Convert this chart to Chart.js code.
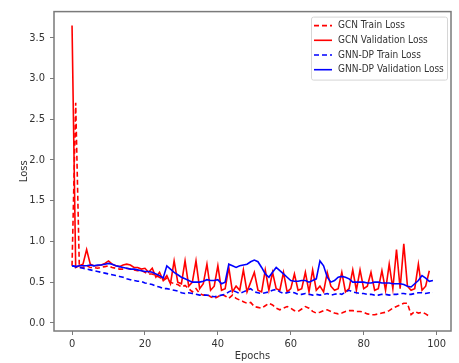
<!DOCTYPE html>
<html>
<head>
<meta charset="utf-8">
<script src="https://cdn.jsdelivr.net/npm/chart.js@4"></script>
<style>
  html, body { margin: 0; padding: 0; background: #fff; }
  #wrap { width: 459px; height: 363px; }
</style>
</head>
<body>
<div id="wrap"><canvas id="grafico" width="459" height="363"></canvas></div>
<script>
const FONTE = "'Liberation Sans Narrow', 'DejaVu Sans Condensed', sans-serif";

const epocas = Array.from({ length: 100 }, (_, i) => i);
const ticksX = [0, 20, 40, 60, 80, 100];
const ticksY = [0.0, 0.5, 1.0, 1.5, 2.0, 2.5, 3.0, 3.5];

const gcnTreino = [
  0.70, 2.70, 0.68, 0.68, 0.70, 0.68, 0.68, 0.67, 0.68, 0.69,
  0.70, 0.68, 0.67, 0.66, 0.66, 0.67, 0.66, 0.65, 0.64, 0.64,
  0.62, 0.60, 0.60, 0.58, 0.56, 0.52, 0.55, 0.50, 0.48, 0.47,
  0.44, 0.46, 0.42, 0.38, 0.42, 0.36, 0.34, 0.35, 0.32, 0.30,
  0.32, 0.35, 0.33, 0.30, 0.34, 0.30, 0.28, 0.26, 0.24, 0.25,
  0.20, 0.19, 0.18, 0.21, 0.24, 0.22, 0.18, 0.16, 0.18, 0.20,
  0.18, 0.15, 0.14, 0.17, 0.20, 0.18, 0.14, 0.12, 0.13, 0.15,
  0.16, 0.14, 0.12, 0.11, 0.12, 0.14, 0.15, 0.15, 0.14, 0.14,
  0.13, 0.11, 0.10, 0.10, 0.11, 0.12, 0.13, 0.15, 0.18, 0.20,
  0.22, 0.24, 0.24, 0.10, 0.14, 0.12, 0.13, 0.11, 0.08
];

const gcnValidacao = [
  3.65, 0.68, 0.70, 0.72, 0.90, 0.72, 0.70, 0.70, 0.71, 0.73,
  0.76, 0.72, 0.70, 0.69, 0.71, 0.72, 0.71, 0.68, 0.68, 0.66,
  0.67, 0.62, 0.67, 0.56, 0.62, 0.52, 0.58, 0.48, 0.76, 0.50,
  0.48, 0.76, 0.45, 0.50, 0.76, 0.42, 0.48, 0.72, 0.40, 0.45,
  0.70, 0.40, 0.42, 0.68, 0.38, 0.45, 0.40, 0.65, 0.38, 0.50,
  0.62, 0.40, 0.38, 0.65, 0.40, 0.62, 0.42, 0.40, 0.62, 0.38,
  0.42, 0.60, 0.40, 0.42, 0.62, 0.38, 0.65, 0.40, 0.45, 0.38,
  0.62, 0.45, 0.40, 0.42, 0.62, 0.38, 0.42, 0.65, 0.40, 0.65,
  0.42, 0.45, 0.62, 0.40, 0.42, 0.64, 0.40, 0.72, 0.42, 0.90,
  0.42, 0.97, 0.45, 0.40, 0.42, 0.72, 0.40, 0.45, 0.64
];

const gnnTreino = [
  0.70, 0.69, 0.68, 0.67, 0.66, 0.65, 0.64, 0.63, 0.62, 0.61,
  0.60, 0.59, 0.58, 0.57, 0.56, 0.54, 0.53, 0.52, 0.51, 0.51,
  0.49, 0.48, 0.47, 0.45, 0.44, 0.42, 0.42, 0.41, 0.40, 0.39,
  0.37, 0.36, 0.37, 0.36, 0.35, 0.34, 0.34, 0.34, 0.33, 0.32,
  0.33, 0.34, 0.35, 0.38, 0.40, 0.38, 0.36, 0.38, 0.40, 0.42,
  0.38, 0.37, 0.36, 0.37, 0.38, 0.40, 0.41, 0.38, 0.36, 0.37,
  0.38, 0.37, 0.35, 0.35, 0.36, 0.35, 0.34, 0.35, 0.34, 0.35,
  0.36, 0.34, 0.35, 0.36, 0.35, 0.38, 0.40, 0.38, 0.37, 0.36,
  0.36, 0.35, 0.35, 0.34, 0.34, 0.35, 0.35, 0.34, 0.35, 0.35,
  0.36, 0.36, 0.35, 0.35, 0.36, 0.37, 0.37, 0.36, 0.37, 0.37
];

const gnnValidacao = [
  0.70, 0.69, 0.70, 0.70, 0.70, 0.71, 0.70, 0.71, 0.71, 0.72,
  0.73, 0.72, 0.70, 0.69, 0.68, 0.67, 0.66, 0.66, 0.65, 0.64,
  0.63, 0.63, 0.62, 0.60, 0.58, 0.55, 0.70, 0.66, 0.62, 0.59,
  0.56, 0.54, 0.52, 0.50, 0.50, 0.50, 0.51, 0.53, 0.52, 0.52,
  0.53, 0.48, 0.50, 0.72, 0.70, 0.68, 0.70, 0.71, 0.72, 0.75,
  0.77, 0.75, 0.68, 0.60, 0.56, 0.62, 0.68, 0.64, 0.60, 0.56,
  0.52, 0.51, 0.51, 0.52, 0.52, 0.50, 0.52, 0.54, 0.76, 0.70,
  0.56, 0.50, 0.52, 0.56, 0.57, 0.56, 0.54, 0.50, 0.50, 0.50,
  0.50, 0.49, 0.49, 0.50, 0.50, 0.49, 0.49, 0.49, 0.48, 0.48,
  0.48, 0.47, 0.45, 0.44, 0.48, 0.52, 0.58, 0.55, 0.51, 0.52
];

function pontos(valores) {
  return valores.map((v, i) => ({ x: epocas[i], y: v }));
}

// Legenda no estilo matplotlib, dentro da área do gráfico (canto superior direito)
const legendaInterna = {
  id: "legendaInterna",
  afterDraw(chart) {
    const ctx = chart.ctx;
    const area = chart.chartArea;
    const itens = chart.data.datasets;
    const x0 = area.right - 140, y0 = area.top + 5, w = 136, h = 63;
    ctx.save();
    ctx.fillStyle = "rgba(255,255,255,0.8)";
    ctx.strokeStyle = "#d6d6d6";
    ctx.lineWidth = 1;
    ctx.beginPath();
    ctx.roundRect(x0 + 0.5, y0 + 0.5, w, h, 2);
    ctx.fill();
    ctx.stroke();
    ctx.font = "10px " + FONTE;
    ctx.textBaseline = "middle";
    itens.forEach((ds, i) => {
      const y = y0 + 9 + i * 14.7;
      ctx.strokeStyle = ds.borderColor;
      ctx.lineWidth = 1.6;
      ctx.setLineDash(ds.borderDash || []);
      ctx.beginPath();
      ctx.moveTo(x0 + 3, y);
      ctx.lineTo(x0 + 21, y);
      ctx.stroke();
      ctx.setLineDash([]);
      ctx.fillStyle = "#333";
      ctx.fillText(ds.label, x0 + 27, y);
    });
    ctx.restore();
  }
};

// Moldura cinza em volta do gráfico
const moldura = {
  id: "moldura",
  afterDatasetsDraw(chart) {
    const { ctx, chartArea: a } = chart;
    ctx.save();
    ctx.strokeStyle = "#7a7a7a";
    ctx.lineWidth = 1.5;
    ctx.strokeRect(a.left, a.top, a.right - a.left, a.bottom - a.top);
    ctx.restore();
  }
};

new Chart(document.getElementById("grafico"), {
  type: "line",
  data: {
    datasets: [
      { label: "GCN Train Loss", data: pontos(gcnTreino), borderColor: "#ff0000", borderDash: [5, 3], order: 3 },
      { label: "GCN Validation Loss", data: pontos(gcnValidacao), borderColor: "#ff0000", order: 2 },
      { label: "GNN-DP Train Loss", data: pontos(gnnTreino), borderColor: "#0000ff", borderDash: [5, 3], order: 1 },
      { label: "GNN-DP Validation Loss", data: pontos(gnnValidacao), borderColor: "#0000ff", order: 0 }
    ]
  },
  options: {
    responsive: false,
    animation: false,
    events: [],
    layout: { padding: { top: 8, right: 8, left: 0, bottom: 0 } },
    elements: {
      line: { borderWidth: 1.6, tension: 0, fill: false },
      point: { radius: 0 }
    },
    plugins: { legend: { display: false }, tooltip: { enabled: false } },
    scales: {
      x: {
        type: "linear",
        min: -4.95,
        max: 103.95,
        afterFit: (s) => { s.height = 32; },
        afterBuildTicks: (s) => { s.ticks = ticksX.map(v => ({ value: v })); },
        ticks: { font: { family: FONTE, size: 11 }, color: "#333", padding: 3, maxRotation: 0 },
        grid: { drawOnChartArea: false, drawTicks: true, tickLength: 4, color: "#7a7a7a" },
        border: { display: false },
        title: { display: true, text: "Epochs", font: { family: FONTE, size: 11 }, color: "#333", padding: { top: 0, bottom: 0 } }
      },
      y: {
        min: -0.1,
        max: 3.82,
        afterFit: (s) => { s.width = 54; },
        afterBuildTicks: (s) => { s.ticks = ticksY.map(v => ({ value: v })); },
        ticks: { font: { family: FONTE, size: 11 }, color: "#333", padding: 5, callback: (v) => v.toFixed(1) },
        grid: { drawOnChartArea: false, drawTicks: true, tickLength: 4, color: "#7a7a7a" },
        border: { display: false },
        title: { display: true, text: "Loss", font: { family: FONTE, size: 11 }, color: "#333", padding: { top: 18, bottom: 0 } }
      }
    }
  },
  plugins: [moldura, legendaInterna]
});
</script>
</body>
</html>
